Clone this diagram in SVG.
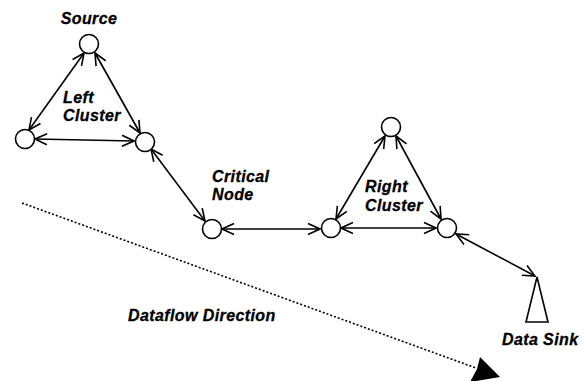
<svg xmlns="http://www.w3.org/2000/svg" width="584" height="381" viewBox="0 0 584 381">
<style>
.node{fill:#fff;stroke:#000;stroke-width:1.6}
.edge{stroke:#000;stroke-width:1.6;fill:none;marker-start:url(#oa);marker-end:url(#oa)}
.lbl{font-family:"Liberation Sans",Arial,sans-serif;font-weight:bold;font-style:italic;font-size:16px;letter-spacing:0.4px;fill:#000;stroke:#000;stroke-width:0.3}
</style>
<defs>
<marker id="oa" viewBox="0 0 14 14" refX="13" refY="7" markerWidth="14" markerHeight="14" markerUnits="userSpaceOnUse" orient="auto-start-reverse">
<path d="M1,1.5 L13,7 L1,12.5" fill="none" stroke="#000" stroke-width="1.6"/>
</marker>
</defs>
<rect width="584" height="381" fill="#fff"/>
<g id="connectors">
<line class="edge" x1="84" y1="53" x2="29" y2="130"/>
<line class="edge" x1="95" y1="53" x2="140" y2="133"/>
<line class="edge" x1="35" y1="139" x2="134" y2="141"/>
<line class="edge" x1="151" y1="149" x2="205" y2="221"/>
<line class="edge" x1="222" y1="229" x2="320" y2="229"/>
<line class="edge" x1="385" y1="136" x2="336" y2="219"/>
<line class="edge" x1="396" y1="136" x2="441" y2="219"/>
<line class="edge" x1="341" y1="228" x2="436" y2="228"/>
<line class="edge" x1="456" y1="234" x2="535" y2="276"/>
<line x1="22" y1="203" x2="476" y2="368" stroke="#000" stroke-width="1.6" stroke-dasharray="2,2"/>
<path d="M480,357 L500,377 L470,382 L477,369 Z" fill="#000"/>
</g>
<g id="source"><circle class="node" cx="89" cy="44" r="9.5"/><text class="lbl" x="89" y="24" text-anchor="middle">Source</text></g>
<g id="left-a"><circle class="node" cx="25" cy="139" r="9.5"/></g>
<g id="left-b"><circle class="node" cx="145" cy="142" r="9.5"/></g>
<g id="left-label"><text class="lbl" x="63" y="103">Left</text><text class="lbl" x="63" y="121">Cluster</text></g>
<g id="critical"><circle class="node" cx="212" cy="229" r="9.5"/><text class="lbl" x="212" y="182">Critical</text><text class="lbl" x="212" y="200">Node</text></g>
<g id="right-top"><circle class="node" cx="391" cy="127" r="9.5"/></g>
<g id="right-a"><circle class="node" cx="331" cy="228" r="9.5"/></g>
<g id="right-b"><circle class="node" cx="447" cy="228" r="9.5"/></g>
<g id="right-label"><text class="lbl" x="365" y="192">Right</text><text class="lbl" x="365" y="211">Cluster</text></g>
<g id="sink"><path class="node" d="M537,277 L526,322 L548,322 Z"/><text class="lbl" x="502" y="345">Data Sink</text></g>
<g id="dataflow"><text class="lbl" x="128" y="321">Dataflow Direction</text></g>
</svg>
